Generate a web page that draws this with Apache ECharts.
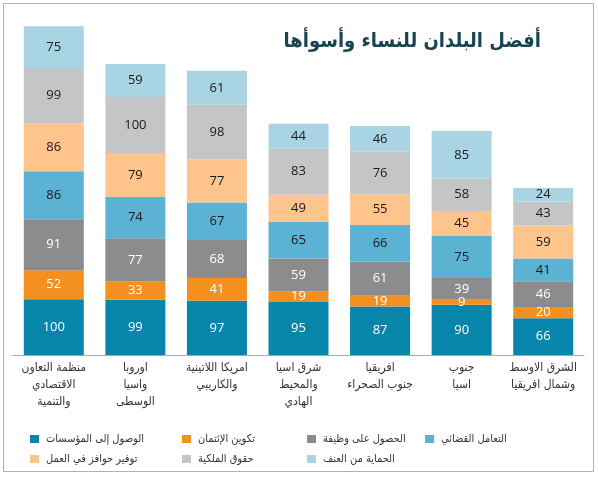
<!DOCTYPE html>
<html>
<head>
<meta charset="utf-8">
<script src="https://cdn.jsdelivr.net/npm/echarts@6/dist/echarts.min.js"></script>
<style>
html,body{margin:0;padding:0;background:#fff;}
#chart{width:598px;height:480px;}
</style>
</head>
<body>
<div id="chart"></div>
<script>
const categories = [
  "منظمة التعاون\nالاقتصادي\nوالتنمية",
  "اوروبا\nواسيا\nالوسطى",
  "امريكا اللاتينية\nوالكاريبي",
  "شرق اسيا\nوالمحيط\nالهادي",
  "افريقيا\nجنوب الصحراء",
  "جنوب\nاسيا",
  "الشرق الاوسط\nوشمال افريقيا"
];
const seriesNames = [
  "الوصول إلى المؤسسات",
  "تكوين الإئتمان",
  "الحصول على وظيفة",
  "التعامل القضائي",
  "توفير حوافز في العمل",
  "حقوق الملكية",
  "الحماية من العنف"
];
const accessInstitutions = [100, 99, 97, 95, 87, 90, 66];
const buildingCredit     = [52, 33, 41, 19, 19, 9, 20];
const gettingJob         = [91, 77, 68, 59, 61, 39, 46];
const goingToCourt       = [86, 74, 67, 65, 66, 75, 41];
const workIncentives     = [86, 79, 77, 49, 55, 45, 59];
const propertyRights     = [99, 100, 98, 83, 76, 58, 43];
const protectionViolence = [75, 59, 61, 44, 46, 85, 24];
const titleText = "أفضل البلدان للنساء وأسوأها";

const seriesData = [accessInstitutions, buildingCredit, gettingJob, goingToCourt, workIncentives, propertyRights, protectionViolence];
const colors = ["#0785aa", "#f39020", "#8c8c8e", "#5cb2d2", "#fdc48c", "#c4c5c7", "#a9d4e4"];
const labelColors = ["#ffffff", "#ffffff", "#ffffff", "#1a1a1a", "#1a1a1a", "#1a1a1a", "#1a1a1a"];
const arFont = "'DejaVu Sans Condensed', 'DejaVu Sans'";

const chart = echarts.init(document.getElementById('chart'), null, {renderer: 'canvas'});

const series = seriesData.map((d, i) => ({
  name: seriesNames[i],
  type: 'bar',
  stack: 'total',
  data: d,
  barWidth: 60,
  itemStyle: {color: colors[i]},
  label: {
    show: true,
    position: 'inside',
    color: labelColors[i],
    fontFamily: 'Open Sans',
    fontSize: 13
  },
  emphasis: {disabled: true}
}));

const legendCols = [
  {left: 25, items: [0, 4]},
  {left: 177, items: [1, 5]},
  {left: 302, items: [2, 6]},
  {left: 420, items: [3]}
];
const legends = legendCols.map(c => ({
  orient: 'vertical',
  left: c.left,
  top: 427,
  itemWidth: 9,
  itemHeight: 8,
  itemGap: 6,
  icon: 'rect',
  selectedMode: false,
  data: c.items.map(i => seriesNames[i]),
  textStyle: {color: '#333', fontSize: 11, fontFamily: arFont, lineHeight: 14, padding: [0, 0, 0, 2]}
}));

chart.setOption({
  animation: false,
  backgroundColor: '#fff',
  color: colors,
  title: {
    text: titleText,
    right: 52,
    top: 27,
    textStyle: {color: '#17454f', fontSize: 20, fontWeight: 'bold', fontFamily: arFont}
  },
  legend: legends,
  grid: {left: 13, right: 14, top: 20, bottom: 125, containLabel: false},
  xAxis: {
    type: 'category',
    data: categories,
    axisTick: {show: false},
    axisLine: {lineStyle: {color: '#aaaaaa', width: 1}},
    axisLabel: {
      color: '#333',
      fontSize: 12,
      fontFamily: arFont,
      lineHeight: 17,
      margin: 4,
      interval: 0
    }
  },
  yAxis: {
    type: 'value',
    min: 0,
    max: 600,
    show: false,
    splitLine: {show: false}
  },
  graphic: [{
    type: 'rect',
    silent: true,
    z: -10,
    shape: {x: 3.5, y: 3.5, width: 590, height: 468},
    style: {fill: 'none', stroke: '#b0b0b0', lineWidth: 1}
  }],
  series: series
});
</script>
</body>
</html>
